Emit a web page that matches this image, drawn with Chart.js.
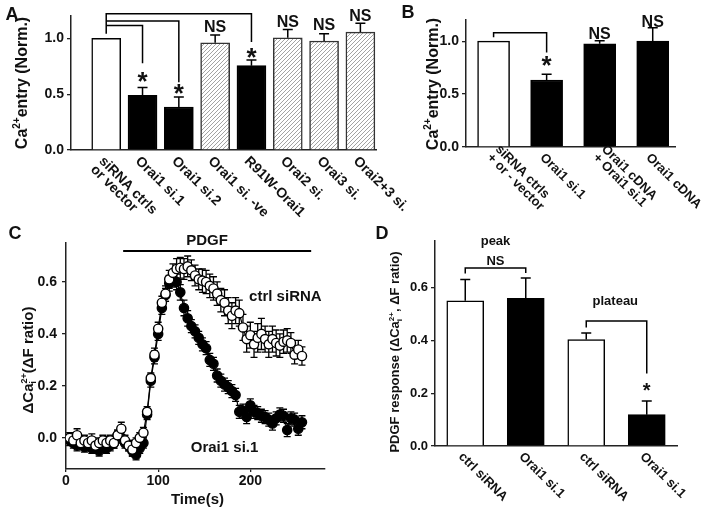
<!DOCTYPE html>
<html>
<head>
<meta charset="utf-8">
<script src="https://cdn.jsdelivr.net/npm/chart.js@4.4.1/dist/chart.umd.min.js"></script>
<style>
html, body { margin: 0; padding: 0; background: #fff; }
#wrap { position: relative; width: 709px; height: 513px; }
canvas { position: absolute; left: 0; top: 0; }
</style>
</head>
<body>
<div id="wrap">
  <canvas id="chartA" width="709" height="513"></canvas>
  <canvas id="chartB" width="709" height="513"></canvas>
  <canvas id="chartC" width="709" height="513"></canvas>
  <canvas id="chartD" width="709" height="513"></canvas>
</div>
<script>
var FONT = "'Liberation Sans', Arial, Helvetica, sans-serif";

// ---- datos panel A ----
var catA = [['siRNA ctrls', 'or vector'], ['Orai1 si.1'], ['Orai1 si.2'], ['Orai1 si. -ve'], ['R91W-Orai1'], ['Orai2 si.'], ['Orai3 si.'], ['Orai2+3 si.']];
var meanA = [1.0, 0.49, 0.385, 0.96, 0.755, 1.005, 0.976, 1.056];
var semA = [0, 0.07, 0.09, 0.07, 0.05, 0.075, 0.065, 0.08];
var ticksA = [0, 0.5, 1.0];

// ---- datos panel B ----
var catB = [['siRNA ctrls', '+ or - vector'], ['Orai1 si.1'], ['Orai1 cDNA', '+ Orai1 si.1'], ['Orai1 cDNA']];
var meanB = [1.0, 0.633, 0.975, 1.0];
var semB = [0, 0.055, 0.03, 0.127];
var ticksB = [0, 0.5, 1.0];

// ---- datos panel C ----
var timeC = [4, 8, 12, 16, 20, 24, 28, 32, 36, 40, 44, 48, 52, 56, 60, 64, 68, 72, 76, 80, 84, 88, 92, 96, 100, 104, 108, 112, 116, 120, 124, 128,
             132, 136, 140, 144, 148, 152, 156, 160, 164, 168, 172, 176, 180, 184, 188, 192, 196, 200, 204, 208, 212, 216, 220, 224, 228, 232, 236, 240, 244, 248, 252, 256];
var ctrlC = [0.00, -0.01, 0.01, -0.02, -0.01, -0.02, -0.01, -0.03, -0.02, -0.01, -0.02, -0.01, -0.02, 0.01, 0.035, -0.01, -0.03, -0.045, -0.02, 0.00, 0.02,
             0.10, 0.23, 0.32, 0.42, 0.52, 0.555, 0.61, 0.635, 0.65, 0.655, 0.65, 0.66, 0.645, 0.625, 0.61, 0.605, 0.60, 0.585, 0.575, 0.555, 0.53, 0.52,
             0.49, 0.47, 0.49, 0.48, 0.425, 0.38, 0.395, 0.36, 0.385, 0.40, 0.38, 0.36, 0.38, 0.365, 0.355, 0.37, 0.375, 0.365, 0.32, 0.34, 0.315];
var ctrlSemC = [0.02, 0.02, 0.025, 0.02, 0.02, 0.02, 0.025, 0.02, 0.02, 0.02, 0.025, 0.02, 0.02, 0.02, 0.025, 0.02, 0.02, 0.025, 0.02, 0.02, 0.02,
                0.02, 0.02, 0.025, 0.025, 0.025, 0.03, 0.035, 0.035, 0.04, 0.04, 0.04, 0.04, 0.04, 0.04, 0.04, 0.045, 0.045, 0.045, 0.045, 0.045, 0.045, 0.05,
                0.05, 0.05, 0.05, 0.05, 0.05, 0.05, 0.05, 0.05, 0.055, 0.06, 0.05, 0.05, 0.05, 0.05, 0.045, 0.045, 0.045, 0.04, 0.035, 0.035, 0.035];
var oraiC = [-0.01, -0.02, -0.03, -0.02, -0.035, -0.03, -0.04, -0.035, -0.05, -0.03, -0.04, -0.03, -0.02, 0.01, 0.00, -0.02, -0.03, -0.05, -0.065, -0.04, -0.02,
             0.09, 0.22, 0.31, 0.40, 0.50, 0.55, 0.595, 0.61, 0.60, 0.56, 0.50, 0.46, 0.43, 0.41, 0.385, 0.36, 0.345, 0.30, 0.285, 0.24, 0.22, 0.205,
             0.195, 0.18, 0.165, 0.10, 0.105, 0.08, 0.125, 0.10, 0.095, 0.085, 0.08, 0.07, 0.055, 0.075, 0.09, 0.085, 0.03, 0.075, 0.07, 0.035, 0.06];
var oraiSemC = [0.02, 0.02, 0.02, 0.02, 0.02, 0.02, 0.02, 0.02, 0.02, 0.02, 0.02, 0.02, 0.02, 0.02, 0.02, 0.02, 0.02, 0.02, 0.02, 0.02, 0.02,
                0.02, 0.025, 0.025, 0.025, 0.025, 0.025, 0.03, 0.03, 0.03, 0.03, 0.03, 0.03, 0.025, 0.025, 0.025, 0.025, 0.025, 0.025, 0.025, 0.025, 0.025, 0.025,
                0.025, 0.025, 0.025, 0.025, 0.025, 0.025, 0.025, 0.025, 0.025, 0.025, 0.025, 0.025, 0.025, 0.025, 0.025, 0.025, 0.025, 0.025, 0.025, 0.025, 0.025];
var ticksCx = [0, 100, 200];
var ticksCy = [0, 0.2, 0.4, 0.6];

// ---- datos panel D ----
var catD = [['ctrl siRNA'], ['Orai1 si.1'], ['ctrl siRNA'], ['Orai1 si.1']];
var meanD = [0.551, 0.56, 0.404, 0.119];
var semD = [0.081, 0.078, 0.025, 0.052];
var ticksD = [0, 0.2, 0.4, 0.6];

// ---- utilidades de dibujo ----
function hatchPattern() {
    var c = document.createElement('canvas');
    c.width = 4; c.height = 4;
    var g = c.getContext('2d');
    g.fillStyle = '#fff';
    g.fillRect(0, 0, 4, 4);
    g.strokeStyle = '#999';
    g.lineWidth = 0.9;
    g.beginPath();
    g.moveTo(0, 4); g.lineTo(4, 0);
    g.moveTo(-1, 1); g.lineTo(1, -1);
    g.moveTo(3, 5); g.lineTo(5, 3);
    g.stroke();
    return g.createPattern(c, 'repeat');
}

function textAt(ctx, s, x, y, size) {
    ctx.save();
    ctx.font = 'bold ' + size + 'px ' + FONT;
    ctx.fillStyle = '#111';
    ctx.textAlign = 'center';
    ctx.textBaseline = 'alphabetic';
    var m = ctx.measureText(s);
    ctx.fillText(s, x, y + (m.actualBoundingBoxAscent - m.actualBoundingBoxDescent) / 2);
    ctx.restore();
}

function path(ctx, pts, w) {
    ctx.save();
    ctx.strokeStyle = '#000';
    ctx.lineWidth = w || 1.5;
    ctx.beginPath();
    ctx.moveTo(pts[0][0], pts[0][1]);
    for (var i = 1; i < pts.length; i++) ctx.lineTo(pts[i][0], pts[i][1]);
    ctx.stroke();
    ctx.restore();
}

// titulo vertical con superindice / subindice
function vTitle(ctx, parts, x, yc, size) {
    var big = 'bold ' + size + 'px ' + FONT;
    var small = 'bold ' + Math.round(size * 0.62) + 'px ' + FONT;
    ctx.save();
    ctx.translate(x, yc);
    ctx.rotate(-Math.PI / 2);
    ctx.fillStyle = '#111';
    ctx.textAlign = 'left';
    ctx.textBaseline = 'alphabetic';
    var widths = [], total = 0;
    parts.forEach(function (p) {
        var w;
        if (p.sup || p.sub) {
            ctx.font = small;
            w = Math.max(p.sup ? ctx.measureText(p.sup).width : 0, p.sub ? ctx.measureText(p.sub).width : 0);
        } else {
            ctx.font = big;
            w = ctx.measureText(p.t).width;
        }
        widths.push(w);
        total += w;
    });
    var cx = -total / 2;
    parts.forEach(function (p, i) {
        if (p.sup || p.sub) {
            ctx.font = small;
            if (p.sup) ctx.fillText(p.sup, cx, -size * 0.42);
            if (p.sub) ctx.fillText(p.sub, cx, size * 0.22);
        } else {
            ctx.font = big;
            ctx.fillText(p.t, cx, 0);
        }
        cx += widths[i];
    });
    ctx.restore();
}

// etiquetas del eje x giradas 45 grados
function xLabels(chart, labels, size, dx, dy, lh, shift) {
    var ctx = chart.ctx, sx = chart.scales.x, yb = chart.chartArea.bottom;
    ctx.save();
    ctx.font = 'bold ' + size + 'px ' + FONT;
    ctx.fillStyle = '#111';
    ctx.textAlign = 'left';
    ctx.textBaseline = 'top';
    labels.forEach(function (lines, i) {
        ctx.save();
        ctx.translate(sx.getPixelForValue(i) + dx, yb + dy);
        ctx.rotate(Math.PI / 4);
        var off = lines.length > 1 ? shift : 0;
        lines.forEach(function (s, j) {
            ctx.fillText(s, 0, (j - off) * lh);
        });
        ctx.restore();
    });
    ctx.restore();
}

function barErrors(chart, means, sems, half) {
    var ctx = chart.ctx, sx = chart.scales.x, sy = chart.scales.y;
    ctx.save();
    ctx.strokeStyle = '#000';
    ctx.lineWidth = 1.5;
    means.forEach(function (m, i) {
        if (!sems[i]) return;
        var cx = sx.getPixelForValue(i), y0 = sy.getPixelForValue(m), y1 = sy.getPixelForValue(m + sems[i]);
        ctx.beginPath();
        ctx.moveTo(cx, y0); ctx.lineTo(cx, y1);
        ctx.moveTo(cx - half, y1); ctx.lineTo(cx + half, y1);
        ctx.stroke();
    });
    ctx.restore();
}

function letter(ctx, s, x, y) {
    textAt(ctx, s, x, y, 18);
}

function yScale(min, max, ticks, size, tickLen, pad, width) {
    return {
        type: 'linear', min: min, max: max,
        afterBuildTicks: function (s) { s.ticks = ticks.map(function (v) { return { value: v }; }); },
        afterFit: function (s) { s.width = width; },
        ticks: { callback: function (v) { return v.toFixed(1); }, font: { family: FONT, size: size, weight: 'bold' }, color: '#111', padding: pad },
        grid: { display: true, drawOnChartArea: false, drawTicks: true, tickLength: tickLen, color: '#222', lineWidth: 1.3 },
        border: { display: true, color: '#222', width: 1.5 }
    };
}

function xBarScale(min, max) {
    return {
        type: 'linear', min: min, max: max, offset: false,
        afterFit: function (s) { s.height = 2; },
        ticks: { display: false },
        grid: { display: false, offset: false },
        border: { display: true, color: '#222', width: 1.5 }
    };
}

function points(vals) {
    return vals.map(function (v, i) { return { x: i, y: v }; });
}

var hatch = hatchPattern();
var commonPlugins = { legend: { display: false }, tooltip: { enabled: false } };

// ---- Panel A ----
new Chart(document.getElementById('chartA'), {
    type: 'bar',
    data: {
        datasets: [{
            data: points(meanA),
            backgroundColor: ['#fff', '#000', '#000', hatch, '#000', hatch, hatch, hatch],
            borderColor: ['#000', '#000', '#000', '#333', '#000', '#333', '#333', '#333'],
            borderWidth: 1.5,
            barThickness: 29
        }]
    },
    options: {
        responsive: false, animation: false, events: [],
        layout: { padding: { left: 41, right: 333, top: 16, bottom: 361 } },
        plugins: commonPlugins,
        scales: { x: xBarScale(-0.97, 7.43), y: yScale(0, 1.2, ticksA, 14, 4, 3, 30) }
    },
    plugins: [{
        id: 'anotA',
        afterDatasetsDraw: function (chart) {
            var ctx = chart.ctx, sx = chart.scales.x, sy = chart.scales.y;
            function px(v) { return sx.getPixelForValue(v); }
            function py(v) { return sy.getPixelForValue(v); }
            barErrors(chart, meanA, semA, 5);
            path(ctx, [[px(0), py(1.04)], [px(0), py(1.22)], [px(4), py(1.22)], [px(4), py(0.967)]]);
            path(ctx, [[px(0), py(1.155)], [px(2), py(1.155)], [px(2), py(0.607)]]);
            path(ctx, [[px(0), py(1.116)], [px(1), py(1.116)], [px(1), py(0.777)]]);
            textAt(ctx, '*', px(1), py(0.65), 26);
            textAt(ctx, '*', px(2), py(0.545), 26);
            textAt(ctx, '*', px(4), py(0.866), 26);
            textAt(ctx, 'NS', px(3), py(1.107), 16);
            textAt(ctx, 'NS', px(5), py(1.155), 16);
            textAt(ctx, 'NS', px(6), py(1.125), 16);
            textAt(ctx, 'NS', px(7), py(1.21), 16);
            xLabels(chart, catA, 14, 0, 4, 12, 0);
            vTitle(ctx, [{ t: 'Ca' }, { sup: '2+' }, { t: 'entry (Norm.)' }], 27, 83, 16);
            letter(ctx, 'A', 12, 13);
        }
    }]
});

// ---- Panel B ----
new Chart(document.getElementById('chartB'), {
    type: 'bar',
    data: {
        datasets: [{
            data: points(meanB),
            backgroundColor: ['#fff', '#000', '#000', '#000'],
            borderColor: '#000',
            borderWidth: 1.5,
            barThickness: 32
        }]
    },
    options: {
        responsive: false, animation: false, events: [],
        layout: { padding: { left: 436, right: 34, top: 20, bottom: 364 } },
        plugins: commonPlugins,
        scales: { x: xBarScale(-0.52, 3.42), y: yScale(0, 1.2, ticksB, 14, 4, 3, 30) }
    },
    plugins: [{
        id: 'anotB',
        afterDatasetsDraw: function (chart) {
            var ctx = chart.ctx, sx = chart.scales.x, sy = chart.scales.y;
            function px(v) { return sx.getPixelForValue(v); }
            function py(v) { return sy.getPixelForValue(v); }
            barErrors(chart, meanB, semB, 5);
            path(ctx, [[px(0), py(1.038)], [px(0), py(1.08)], [px(1), py(1.08)], [px(1), py(0.893)]]);
            textAt(ctx, '*', px(1), py(0.81), 26);
            textAt(ctx, 'NS', px(2), py(1.08), 16);
            textAt(ctx, 'NS', px(3), py(1.19), 16);
            xLabels(chart, catB, 13, 0, 4, 12, 1);
            vTitle(ctx, [{ t: 'Ca' }, { sup: '2+' }, { t: 'entry (Norm.)' }], 438, 84, 16);
            letter(ctx, 'B', 408, 11);
        }
    }]
});

// ---- Panel C ----
function seriesC(vals) {
    return vals.map(function (v, i) { return { x: timeC[i], y: v }; });
}
new Chart(document.getElementById('chartC'), {
    type: 'line',
    data: {
        datasets: [{
            data: seriesC(ctrlC),
            borderColor: '#000', borderWidth: 1.2,
            pointRadius: 4.6, pointBorderWidth: 1.4,
            pointBackgroundColor: '#fff', pointBorderColor: '#000'
        }, {
            data: seriesC(oraiC),
            borderColor: '#000', borderWidth: 1.2,
            pointRadius: 4.6, pointBorderWidth: 1.4,
            pointBackgroundColor: '#000', pointBorderColor: '#000'
        }]
    },
    options: {
        responsive: false, animation: false, events: [],
        layout: { padding: { left: 36, right: 384, top: 243, bottom: 24 } },
        plugins: commonPlugins,
        scales: {
            x: {
                type: 'linear', min: 0, max: 281,
                afterBuildTicks: function (s) { s.ticks = ticksCx.map(function (v) { return { value: v }; }); },
                afterFit: function (s) { s.height = 20; },
                ticks: { font: { family: FONT, size: 14, weight: 'bold' }, color: '#111', padding: 1, maxRotation: 0 },
                grid: { display: true, drawOnChartArea: false, drawTicks: true, tickLength: 3, color: '#222', lineWidth: 1.3 },
                border: { display: true, color: '#222', width: 1.5 }
            },
            y: yScale(-0.12, 0.75, ticksCy, 14, 4, 5, 30)
        }
    },
    plugins: [{
        id: 'anotC',
        beforeDatasetsDraw: function (chart) {
            var ctx = chart.ctx, sx = chart.scales.x, sy = chart.scales.y;
            ctx.save();
            ctx.strokeStyle = '#000';
            ctx.lineWidth = 1.3;
            [[ctrlC, ctrlSemC], [oraiC, oraiSemC]].forEach(function (pair) {
                pair[0].forEach(function (v, i) {
                    var cx = sx.getPixelForValue(timeC[i]);
                    var y1 = sy.getPixelForValue(v + pair[1][i]), y2 = sy.getPixelForValue(v - pair[1][i]);
                    ctx.beginPath();
                    ctx.moveTo(cx, y1); ctx.lineTo(cx, y2);
                    ctx.moveTo(cx - 3.5, y1); ctx.lineTo(cx + 3.5, y1);
                    ctx.moveTo(cx - 3.5, y2); ctx.lineTo(cx + 3.5, y2);
                    ctx.stroke();
                });
            });
            ctx.restore();
        },
        afterDatasetsDraw: function (chart) {
            var ctx = chart.ctx, sx = chart.scales.x, sy = chart.scales.y, ca = chart.chartArea;
            path(ctx, [[sx.getPixelForValue(62), sy.getPixelForValue(0.719)], [sx.getPixelForValue(266), sy.getPixelForValue(0.719)]], 2);
            textAt(ctx, 'PDGF', sx.getPixelForValue(153), sy.getPixelForValue(0.762), 15);
            textAt(ctx, 'ctrl siRNA', sx.getPixelForValue(238), sy.getPixelForValue(0.549), 15);
            textAt(ctx, 'Orai1 si.1', sx.getPixelForValue(172), sy.getPixelForValue(-0.035), 15);
            textAt(ctx, 'Time(s)', (ca.left + ca.right) / 2 + 2, 500, 15);
            vTitle(ctx, [{ t: '\u0394Ca' }, { sup: '2+', sub: 'i' }, { t: '(\u0394F ratio)' }], 33, 360, 15);
            letter(ctx, 'C', 15, 232);
        }
    }]
});

// ---- Panel D ----
new Chart(document.getElementById('chartD'), {
    type: 'bar',
    data: {
        datasets: [{
            data: points(meanD),
            backgroundColor: ['#fff', '#000', '#fff', '#000'],
            borderColor: '#000',
            borderWidth: 1.5,
            barThickness: 37
        }]
    },
    options: {
        responsive: false, animation: false, events: [],
        layout: { padding: { left: 405, right: 32, top: 241, bottom: 65 } },
        plugins: commonPlugins,
        scales: { x: xBarScale(-0.5, 3.5), y: yScale(0, 0.778, ticksD, 13, 4, 3, 30) }
    },
    plugins: [{
        id: 'anotD',
        afterDatasetsDraw: function (chart) {
            var ctx = chart.ctx, sx = chart.scales.x, sy = chart.scales.y;
            function px(v) { return sx.getPixelForValue(v); }
            function py(v) { return sy.getPixelForValue(v); }
            barErrors(chart, meanD, semD, 5);
            path(ctx, [[px(0), py(0.655)], [px(0), py(0.676)], [px(1), py(0.676)], [px(1), py(0.657)]]);
            path(ctx, [[px(2), py(0.45)], [px(2), py(0.474)], [px(3), py(0.474)], [px(3), py(0.275)]]);
            textAt(ctx, 'NS', px(0.5), py(0.705), 13);
            textAt(ctx, 'peak', px(0.5), py(0.775), 13);
            textAt(ctx, 'plateau', px(2.48), py(0.547), 13);
            textAt(ctx, '*', px(3), py(0.224), 20);
            xLabels(chart, catD, 13, 0, 4, 12, 0);
            vTitle(ctx, [{ t: 'PDGF response (\u0394Ca' }, { sup: '2+', sub: 'i' }, { t: ', \u0394F ratio)' }], 399, 352, 13);
            letter(ctx, 'D', 382, 232);
        }
    }]
});
</script>
</body>
</html>
